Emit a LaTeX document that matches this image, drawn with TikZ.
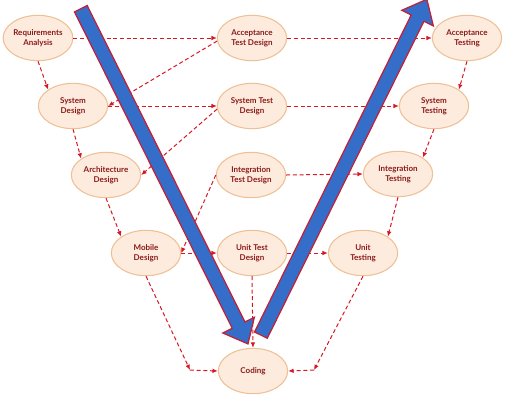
\documentclass[tikz,border=0pt]{standalone}
\usepackage{fontspec}
\setmainfont{Lato}
\usetikzlibrary{positioning}
\usetikzlibrary{shapes.geometric, shapes.arrows, arrows.meta}

\definecolor{phasefill}{RGB}{253,236,222}
\definecolor{phaseline}{RGB}{238,192,150}
\definecolor{phasetext}{RGB}{139,26,26}
\definecolor{linkred}{RGB}{214,24,36}
\definecolor{flowblue}{RGB}{52,110,200}
\definecolor{flowedge}{RGB}{196,30,52}

\begin{document}
\begin{tikzpicture}[
    x=0.75pt, y=-0.75pt,
    fase/.style={
        ellipse,
        draw=phaseline,
        line width=0.8pt,
        fill=phasefill,
        minimum width=52pt,
        minimum height=34pt,
        inner sep=0pt,
        align=center,
        text=phasetext,
        font=\bfseries\fontsize{6}{7.5}\selectfont
    },
    arrow/.style={-{Latex[length=4pt,width=3.5pt]}, color=linkred, line width=0.75pt, dash pattern=on 3pt off 2pt},
    flow/.style={
        single arrow,
        draw=flowedge,
        fill=flowblue,
        line width=0.9pt,
        minimum height=281pt,
        inner xsep=0pt,
        inner ysep=4.9pt,
        single arrow head extend=7.9pt,
        single arrow tip angle=80
    }
]
\useasboundingbox (0,0) rectangle (506,401);

% left branch
\node[fase] (req) at (38,38) {Requirements\\Analysis};
\node[fase] (sysd) at (73,106) {System\\Design};
\node[fase] (arch) at (106,175) {Architecture\\Design};
\node[fase] (mob) at (146,253) {Mobile\\Design};

% middle column
\node[fase] (atd) at (252,38) {Acceptance\\Test Design};
\node[fase] (std) at (252,106) {System Test\\Design};
\node[fase] (itd) at (251,175) {Integration\\Test Design};
\node[fase] (utd) at (252,253) {Unit Test\\Design};
\node[fase] (cod) at (253,371) {Coding};

% right branch
\node[fase] (acct) at (467,38) {Acceptance\\Testing};
\node[fase] (syst) at (434,106) {System\\Testing};
\node[fase] (intt) at (398,174) {Integration\\Testing};
\node[fase] (ut) at (363,253) {Unit\\Testing};

\coordinate (mobturn) at (190,370);
\coordinate (utturn) at (314,370);

\draw[arrow] (req.south) -- (sysd.north west);
\draw[arrow] (sysd.south) -- (arch.north west);
\draw[arrow] (arch.south) -- (mob.north west);
\draw[arrow] (mob.south) -- (mobturn);
\draw[arrow] (mobturn) -- (cod.west);

\draw[arrow] (acct.south) -- (syst.north east);
\draw[arrow] (syst.south) -- (intt.north east);
\draw[arrow] (intt.south) -- (ut.north east);
\draw[arrow] (ut.south) -- (utturn);
\draw[arrow] (utturn) -- (cod.east);

\draw[arrow] (req.east) -- (atd.west);
\draw[arrow] (atd.east) -- (acct.west);
\draw[arrow] (sysd.east) -- (std.west);
\draw[arrow] (std.east) -- (syst.west);
\draw[arrow] (itd.east) -- (intt.west);
\draw[arrow] (mob.east) -- (utd.west);
\draw[arrow] (utd.east) -- (ut.west);
\draw[arrow] (utd.south) -- (cod.north);

\draw[arrow] (atd.185) -- (sysd.east);
\draw[arrow] (std.185) -- (arch.east);
\draw[arrow] (itd.west) -- (mob.east);

% big V arrows
\node[flow, rotate=-63.5] (down) at (162.5,172.5) {};
\node[flow, rotate=63.7] (up) at (342,171) {};

\end{tikzpicture}
\end{document}
